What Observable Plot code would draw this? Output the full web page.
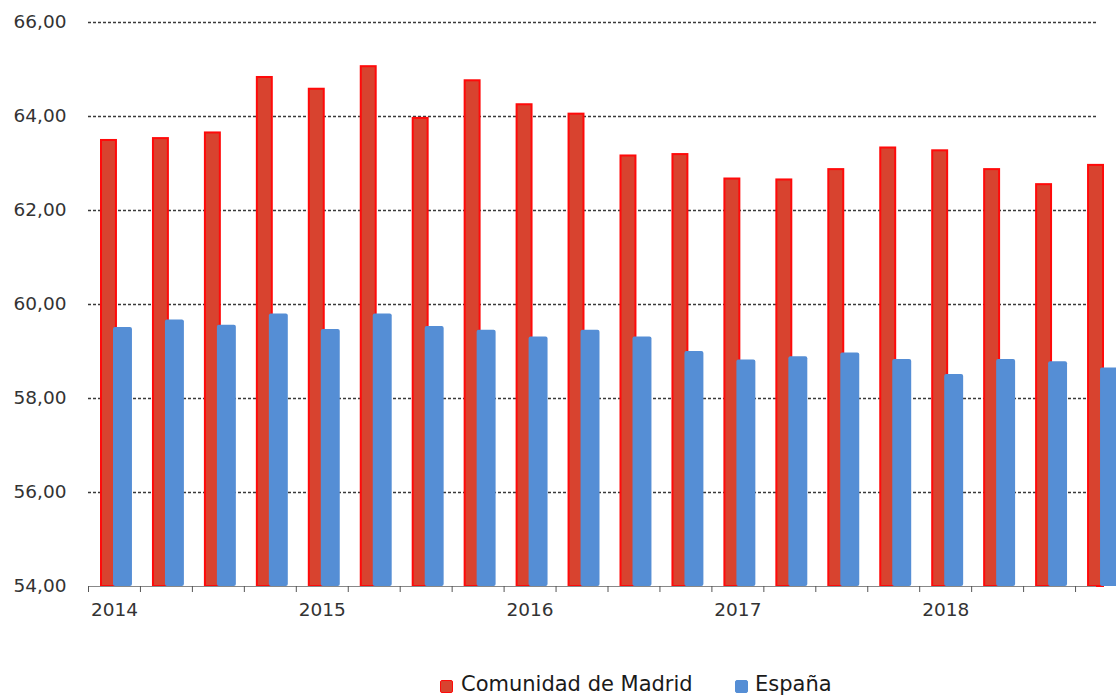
<!DOCTYPE html>
<html>
<head>
<meta charset="utf-8">
<script src="https://cdn.jsdelivr.net/npm/d3@7"></script>
<script src="https://cdn.jsdelivr.net/npm/@observablehq/plot@0.6"></script>
<style>
  html, body { margin: 0; padding: 0; background: #fff; overflow: hidden; }
  #chart { width: 1116px; height: 650px; }
  #legend { position: relative; width: 1116px; height: 46px; font-family: "DejaVu Sans", sans-serif; font-size: 21px; color: #1a1a1a; }
  #legend .sw { position: absolute; top: 30px; width: 11px; height: 11px; }
  #legend .lb { position: absolute; top: 22px; line-height: 24px; white-space: nowrap; }
</style>
</head>
<body>
<div id="chart"></div>
<div id="legend"></div>
<script>
const quarters = ["2014-T1","2014-T2","2014-T3","2014-T4","2015-T1","2015-T2","2015-T3","2015-T4",
  "2016-T1","2016-T2","2016-T3","2016-T4","2017-T1","2017-T2","2017-T3","2017-T4",
  "2018-T1","2018-T2","2018-T3","2018-T4"];
const madrid = [63.49,63.53,63.65,64.83,64.58,65.06,63.96,64.76,64.25,64.05,63.16,63.19,62.67,62.65,62.87,63.33,63.27,62.87,62.55,62.96];
const espana = [59.51,59.67,59.56,59.80,59.47,59.80,59.53,59.45,59.31,59.45,59.31,59.00,58.82,58.89,58.97,58.83,58.51,58.83,58.78,58.65];
const yearLabels = ["2014","2015","2016","2017","2018"];
const yTicks = [54,56,58,60,62,64,66];
const seriesNames = ["Comunidad de Madrid","España"];
const seriesColors = ["#d8432f","#558ed5"];

const data = quarters.map((q, i) => ({i, q, madrid: madrid[i], espana: espana[i]}));
const years = yearLabels.map((y, k) => ({label: y, i: quarters.findIndex(q => q.startsWith(y))}));
const fmt = d => d.toFixed(2).replace(".", ",");

const chart = Plot.plot({
  width: 1116,
  height: 650,
  marginLeft: 88,
  marginTop: 22,
  marginBottom: 64,
  style: {fontFamily: "DejaVu Sans, sans-serif", fontSize: "18.5px", color: "#333", background: "#fff"},
  x: {domain: [0, quarters.length], range: [88, 88 + 51.95 * quarters.length], axis: null},
  y: {domain: [54, 66], axis: null},
  marks: [
    Plot.ruleY(yTicks.filter(t => t > 54), {stroke: "#3a3a3a", strokeWidth: 1.3, strokeDasharray: "3,2"}),
    Plot.rectY(data, {x1: d => d.i, x2: d => d.i + 1, y1: 54, y2: "madrid", insetLeft: 13, insetRight: 24,
      fill: seriesColors[0], stroke: "#ff0a0a", strokeWidth: 2}),
    Plot.rectY(data, {x1: d => d.i, x2: d => d.i + 1, y1: 54, y2: "espana", insetLeft: 25, insetRight: 8,
      fill: seriesColors[1], rx: 2}),
    Plot.ruleY([54], {stroke: "#888", strokeWidth: 1.2}),
    Plot.axisX({ticks: d3.range(0, quarters.length + 1), tickFormat: () => "", tickSize: 6, stroke: "#555", anchor: "bottom"}),
    Plot.axisY({ticks: yTicks, tickFormat: fmt, tickSize: 0, tickPadding: 22, fill: "#333", anchor: "left"}),
    Plot.text(years, {x: d => d.i + 0.5, y: 54, text: "label", dy: 24, fill: "#333", fontSize: 18.5})
  ]
});
document.getElementById("chart").appendChild(chart);

const legend = document.getElementById("legend");
const items = [
  {name: seriesNames[0], color: seriesColors[0], border: "1.5px solid #ff0a0a", sx: 440, tx: 461},
  {name: seriesNames[1], color: seriesColors[1], border: "1.5px solid " + seriesColors[1], sx: 735, tx: 755}
];
for (const it of items) {
  const sw = document.createElement("div");
  sw.className = "sw";
  sw.style.left = it.sx + "px";
  sw.style.background = it.color;
  sw.style.border = it.border;
  sw.style.borderRadius = "2px";
  legend.appendChild(sw);
  const lb = document.createElement("div");
  lb.className = "lb";
  lb.style.left = it.tx + "px";
  lb.textContent = it.name;
  legend.appendChild(lb);
}
</script>
</body>
</html>
